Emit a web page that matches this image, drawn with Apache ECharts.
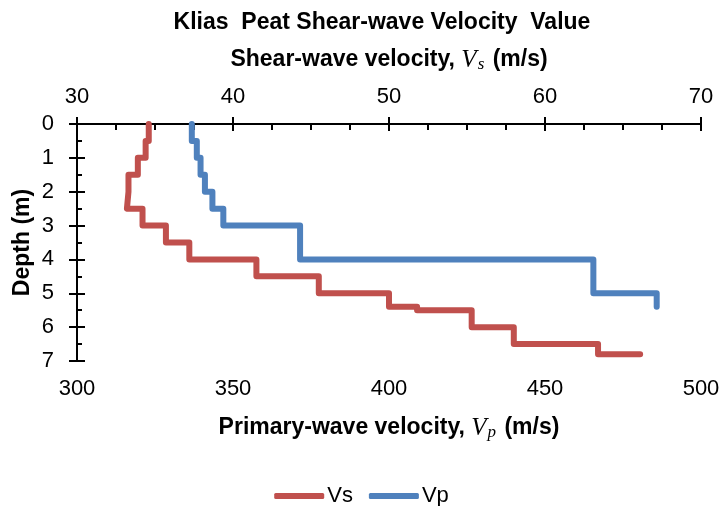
<!DOCTYPE html>
<html>
<head>
<meta charset="utf-8">
<script src="https://cdn.jsdelivr.net/npm/echarts@6/dist/echarts.min.js"></script>
<style>
html,body{margin:0;padding:0;background:#fff;}
#chart{width:723px;height:506px;}
</style>
</head>
<body>
<div id="chart"></div>
<script>
// Data
var vsDepth = [0, 0.5, 1.0, 1.5, 2.0, 2.5, 3.0, 3.5, 4.0, 4.5, 5.0, 5.4, 5.5, 6.0, 6.5, 6.8];
var vsValue = [34.6, 34.4, 33.9, 33.3, 33.2, 34.2, 35.7, 37.2, 41.5, 45.5, 50.0, 51.8, 55.3, 58.0, 63.4, 66.1];
var vpDepth = [0, 0.5, 1.0, 1.5, 2.0, 2.5, 3.0, 4.0, 5.0, 5.4];
var vpValue = [336.8, 338.4, 339.6, 341.0, 343.4, 346.9, 371.5, 465.5, 485.8, 485.8];
var vsTicks = [30, 40, 50, 60, 70];
var vpTicks = [300, 350, 400, 450, 500];
var depthTicks = [0, 1, 2, 3, 4, 5, 6, 7];
var seriesNames = ['Vs', 'Vp'];

function stepPoints(vals, deps) {
  var pts = [];
  for (var i = 0; i < vals.length; i++) {
    pts.push([vals[i], deps[i]]);
    if (i < vals.length - 1) pts.push([vals[i], deps[i + 1]]);
  }
  return pts;
}

var FONT = 'Liberation Sans, Arial, sans-serif';
var SERIF = 'Liberation Serif, Times New Roman, serif';
var black = '#000';

var chart = echarts.init(document.getElementById('chart'));

var nameRich = {
  b: { fontFamily: FONT, fontWeight: 'bold', fontSize: 23, color: black, lineHeight: 26 },
  v: { fontFamily: SERIF, fontStyle: 'italic', fontSize: 25, color: black, lineHeight: 26 },
  sub: { fontFamily: SERIF, fontStyle: 'italic', fontSize: 17, color: black, lineHeight: 16, verticalAlign: 'bottom', padding: [0, 2, 0, 1] }
};

var option = {
  animation: false,
  backgroundColor: '#fff',
  graphic: [{
    type: 'text',
    x: 382,
    y: 23,
    style: {
      text: 'Klias  Peat Shear-wave Velocity  Value',
      font: 'bold 23px ' + FONT,
      fill: black,
      align: 'center',
      verticalAlign: 'middle'
    }
  }],
  legend: {
    data: seriesNames,
    top: 480,
    left: 'center',
    icon: 'roundRect',
    itemWidth: 50,
    itemHeight: 6,
    itemGap: 16,
    textStyle: { fontFamily: FONT, fontSize: 22, color: black, padding: [0, 0, 0, -2] }
  },
  grid: { left: 77, right: 22, top: 124, bottom: 145, containLabel: false },
  xAxis: [
    {
      type: 'value', position: 'bottom', min: vpTicks[0], max: vpTicks[vpTicks.length - 1], interval: vpTicks[1] - vpTicks[0],
      axisLine: { show: true, lineStyle: { color: black, width: 2 } },
      axisTick: { show: true, inside: false, length: 6, lineStyle: { color: black, width: 2 } },
      axisLabel: { margin: 17, fontFamily: FONT, fontSize: 22, color: black },
      splitLine: { show: false },
      name: '{b|Primary-wave velocity, }{v|V}{sub|p}{b| (m/s)}',
      nameLocation: 'middle', nameGap: 54,
      nameTextStyle: { rich: nameRich }
    },
    {
      type: 'value', position: 'top', min: vsTicks[0], max: vsTicks[vsTicks.length - 1], interval: vsTicks[1] - vsTicks[0],
      axisLine: { show: true, lineStyle: { color: black, width: 2 } },
      axisTick: { show: true, inside: false, length: 7, lineStyle: { color: black, width: 2 } },
      axisLabel: { margin: 16, fontFamily: FONT, fontSize: 22, color: black },
      splitLine: { show: false },
      name: '{b|Shear-wave velocity, }{v|V}{sub|s}{b| (m/s)}',
      nameLocation: 'middle', nameGap: 51,
      nameTextStyle: { rich: nameRich }
    },
    {
      type: 'value', position: 'top', min: vsTicks[0], max: vsTicks[vsTicks.length - 1], interval: vsTicks[1] - vsTicks[0],
      axisLine: { show: false },
      axisTick: { show: true, inside: true, length: 7, lineStyle: { color: black, width: 2 } },
      minorTick: { show: true, splitNumber: 4, length: 6, lineStyle: { color: black, width: 2 } },
      axisLabel: { show: false },
      splitLine: { show: false }
    }
  ],
  yAxis: [
    {
      type: 'value', position: 'left', inverse: true, min: depthTicks[0], max: depthTicks[depthTicks.length - 1], interval: depthTicks[1] - depthTicks[0],
      axisLine: { show: true, lineStyle: { color: black, width: 2 } },
      axisTick: { show: true, inside: false, length: 8, lineStyle: { color: black, width: 2 } },
      axisLabel: { margin: 23, fontFamily: FONT, fontSize: 22, color: black },
      splitLine: { show: false },
      name: 'Depth (m)', nameLocation: 'middle', nameGap: 43, nameRotate: 90, nameMoveOverlap: false,
      nameTextStyle: { fontFamily: FONT, fontWeight: 'bold', fontSize: 23, color: black }
    },
    {
      type: 'value', position: 'left', inverse: true, min: depthTicks[0], max: depthTicks[depthTicks.length - 1], interval: depthTicks[1] - depthTicks[0],
      axisLine: { show: false },
      axisTick: { show: true, inside: true, length: 8, lineStyle: { color: black, width: 2 } },
      minorTick: { show: true, splitNumber: 2, length: 5, lineStyle: { color: black, width: 2 } },
      axisLabel: { show: false },
      splitLine: { show: false }
    }
  ],
  series: [
    {
      name: seriesNames[0], type: 'line', xAxisIndex: 1, yAxisIndex: 0,
      data: stepPoints(vsValue, vsDepth),
      showSymbol: false, symbol: 'none',
      lineStyle: { color: '#C0504D', width: 6, cap: 'round', join: 'round' },
      itemStyle: { color: '#C0504D' },
      z: 3
    },
    {
      name: seriesNames[1], type: 'line', xAxisIndex: 0, yAxisIndex: 0,
      data: stepPoints(vpValue, vpDepth),
      showSymbol: false, symbol: 'none',
      lineStyle: { color: '#4F81BD', width: 6, cap: 'round', join: 'round' },
      itemStyle: { color: '#4F81BD' },
      z: 2
    }
  ]
};
chart.setOption(option);
</script>
</body>
</html>
